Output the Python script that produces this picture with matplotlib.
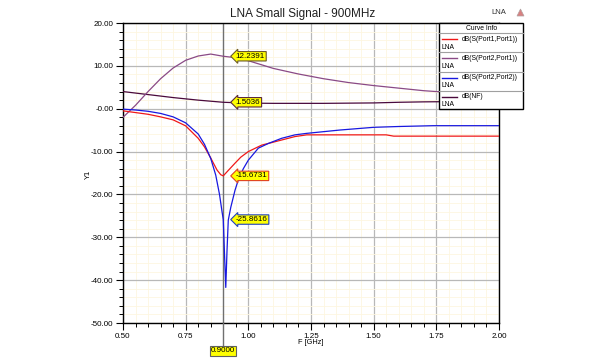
import matplotlib
matplotlib.use("Agg")
import matplotlib.pyplot as plt
from matplotlib.patches import Rectangle, Polygon
from matplotlib.lines import Line2D
from matplotlib.ticker import MultipleLocator, FixedLocator

plt.rcParams['font.family'] = ['Liberation Sans', 'DejaVu Sans']

# ---- data ----
title = "LNA Small Signal - 900MHz"
x_ticks = [0.50, 0.75, 1.00, 1.25, 1.50, 1.75, 2.00]
x_tick_labels = ["0.50", "0.75", "1.00", "1.25", "1.50", "1.75", "2.00"]
y_ticks = [20, 10, 0, -10, -20, -30, -40, -50]
y_tick_labels = ["20.00", "10.00", "-0.00", "-10.00", "-20.00", "-30.00", "-40.00", "-50.00"]

f_s11 = [0.50, 0.55, 0.60, 0.65, 0.70, 0.75, 0.80, 0.825, 0.85, 0.875, 0.89, 0.90,
         0.92, 0.947, 0.97, 1.00, 1.053, 1.10, 1.133, 1.186, 1.233, 1.30, 1.55, 1.58, 1.75, 2.00]
s11 = [-0.5, -0.9, -1.3, -1.9, -2.6, -4.0, -6.9, -8.9, -11.5, -14.3, -15.4, -15.67,
       -14.4, -12.7, -11.3, -10.0, -8.5, -7.8, -7.3, -6.5, -6.1, -6.1, -6.1, -6.4, -6.4, -6.4]

f_s21 = [0.50, 0.55, 0.60, 0.65, 0.70, 0.75, 0.80, 0.85, 0.90, 0.95, 1.00, 1.10,
         1.20, 1.30, 1.40, 1.50, 1.60, 1.70, 1.80, 1.90, 2.00]
s21 = [-2.0, 0.8, 4.0, 7.0, 9.5, 11.3, 12.3, 12.75, 12.24, 11.9, 11.2, 9.4,
       8.1, 7.0, 6.1, 5.4, 4.8, 4.2, 3.8, 3.4, 3.0]

f_s22 = [0.50, 0.55, 0.60, 0.65, 0.70, 0.75, 0.80, 0.825, 0.85, 0.87, 0.885, 0.895,
         0.90, 0.905, 0.91, 0.915, 0.92, 0.93, 0.947, 0.96, 0.98, 1.00, 1.04, 1.08,
         1.133, 1.186, 1.233, 1.366, 1.50, 1.60, 1.738, 2.00]
s22 = [-0.1, -0.3, -0.6, -1.1, -1.9, -3.3, -5.9, -8.3, -11.6, -15.5, -20.0, -24.0,
       -25.86, -34.0, -41.7, -33.0, -26.0, -23.0, -19.0, -16.6, -14.0, -12.0, -9.2, -8.1,
       -6.9, -6.1, -5.75, -4.97, -4.34, -4.15, -3.96, -3.96]

f_nf = [0.50, 0.60, 0.70, 0.80, 0.90, 1.00, 1.10, 1.20, 1.30, 1.40, 1.50, 1.60, 1.70, 1.80, 2.00]
nf = [4.0, 3.3, 2.6, 2.0, 1.5036, 1.3, 1.25, 1.25, 1.25, 1.3, 1.35, 1.5, 1.6, 1.65, 1.7]

marker_f = 0.9
marker_vals = [12.2391, 1.5036, -15.6731, -25.8616]
marker_labels = ["12.2391", "1.5036", "-15.6731", "-25.8616"]
marker_edges = ["#6b5a2a", "#5a2a3a", "#e04020", "#2040c0"]

legend_names = ["dB(S(Port1,Port1))", "dB(S(Port2,Port1))", "dB(S(Port2,Port2))", "dB(NF)"]
c_s11, c_s21, c_s22, c_nf = "#f01818", "#8a4a86", "#1818e0", "#4a0a3c"
legend_colors = [c_s11, c_s21, c_s22, c_nf]

W, H = 600, 361
fig = plt.figure(figsize=(W / 100, H / 100), dpi=100)
fig.patch.set_facecolor("white")

def fx(x):
    return x / W

def fy(y):
    return 1 - y / H

L, R, T, B = 123, 499, 23, 323
ax = fig.add_axes([fx(L), fy(B), (R - L) / W, (B - T) / H])
ax.set_xlim(0.5, 2.0)
ax.set_ylim(-50, 20)

ax.xaxis.set_major_locator(FixedLocator(x_ticks))
ax.yaxis.set_major_locator(FixedLocator(y_ticks))
ax.set_xticklabels(x_tick_labels)
ax.set_yticklabels(y_tick_labels)
ax.xaxis.set_minor_locator(MultipleLocator(0.05))
ax.yaxis.set_minor_locator(MultipleLocator(2))
ax.grid(which="minor", color="#fdf6e0", lw=0.6)
ax.grid(which="major", color="#b8b8b8", lw=0.9)
ax.set_axisbelow(True)
ax.tick_params(which="major", direction="out", length=5, width=0.8, labelsize=5.8, pad=2)
ax.tick_params(which="minor", direction="out", length=3, width=0.7)
for s in ax.spines.values():
    s.set_linewidth(1.0)
    s.set_color("black")

# marker vertical line
ax.axvline(marker_f, color="#707070", lw=1.0, zorder=2)
fig.add_artist(Line2D([fx(223.3), fx(223.3)], [fy(323), fy(347)], color="#707070", lw=1.0))

ax.plot(f_nf, nf, color=c_nf, lw=0.9, zorder=3)
ax.plot(f_s21, s21, color=c_s21, lw=0.9, zorder=3)
ax.plot(f_s11, s11, color=c_s11, lw=0.9, zorder=3)
ax.plot(f_s22, s22, color=c_s22, lw=0.9, zorder=3)

for v, lab, ec in zip(marker_vals, marker_labels, marker_edges):
    ax.annotate(lab, xy=(marker_f, v), xytext=(9, 0), textcoords="offset points",
                fontsize=5.8, va="center", ha="left", zorder=6,
                bbox=dict(boxstyle="larrow,pad=0.15", fc="#ffff00", ec=ec, lw=0.8))

fig.text(fx(223), fy(351), "0.9000", fontsize=5.8, ha="center", va="center",
         bbox=dict(boxstyle="square,pad=0.15", fc="#ffff00", ec="#606060", lw=0.8))

# titles / labels
fig.text(fx(303), fy(14), title, fontsize=8.5, ha="center", va="center", color="#202020")
fig.text(fx(88), fy(174), "Y1", fontsize=5.5, rotation=90, ha="center", va="center")
fig.text(fx(311), fy(343), "F [GHz]", fontsize=5.3, ha="center", va="center")
fig.text(fx(499), fy(13), "LNA", fontsize=5.5, ha="center", va="center", color="#303030")
fig.add_artist(Polygon([[fx(517), fy(16)], [fx(524), fy(16)], [fx(520.5), fy(9)]],
                       closed=True, fc="#d88080", ec="#b0a0a0", lw=0.5))

# legend box
LL, LR, LT = 439.3, 523.3, 23
rows = [33.3, 52.3, 71.7, 90.7, 109.3]
fig.add_artist(Rectangle((fx(LL), fy(rows[-1])), (LR - LL) / W, (rows[-1] - LT) / H,
                         fc="white", ec="black", lw=1.0, zorder=10))
fig.text(fx((LL + LR) / 2), fy(28), "Curve Info", fontsize=4.9, ha="center", va="center", zorder=11)
for r in rows[:-1]:
    fig.add_artist(Line2D([fx(LL), fx(LR)], [fy(r), fy(r)], color="#a0a0a0", lw=0.8, zorder=11))
for i, (name, col) in enumerate(zip(legend_names, legend_colors)):
    top = rows[i]
    fig.add_artist(Line2D([fx(441.7), fx(456.7)], [fy(top + 6), fy(top + 6)], color=col, lw=1.0, zorder=11))
    fig.text(fx(462), fy(top + 6), name, fontsize=4.9, ha="left", va="center", zorder=11)
    fig.text(fx(441.5), fy(top + 14), "LNA", fontsize=4.9, ha="left", va="center", zorder=11)

fig.savefig("out.png", dpi=100)
